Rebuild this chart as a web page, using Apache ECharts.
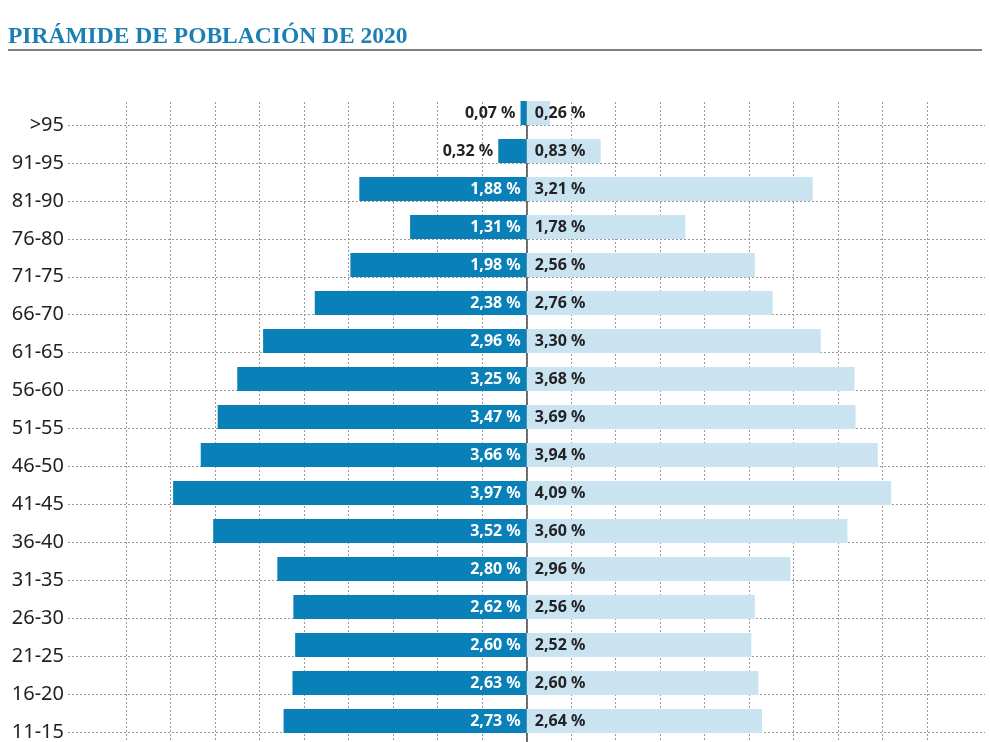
<!DOCTYPE html>
<html>
<head>
<meta charset="utf-8">
<script src="https://cdn.jsdelivr.net/npm/echarts@6/dist/echarts.min.js"></script>
<style>
  html, body { margin: 0; padding: 0; background: #fff; }
  #main { width: 990px; height: 742px; }
</style>
</head>
<body>
<div id="main"></div>
<script>
// grupos de edad, de arriba abajo
var edades = ['>95', '91-95', '81-90', '76-80', '71-75', '66-70', '61-65', '56-60',
              '51-55', '46-50', '41-45', '36-40', '31-35', '26-30', '21-25', '16-20', '11-15'];
// porcentaje izquierda (azul oscuro) y derecha (azul claro)
var izquierda = [0.07, 0.32, 1.88, 1.31, 1.98, 2.38, 2.96, 3.25,
                 3.47, 3.66, 3.97, 3.52, 2.80, 2.62, 2.60, 2.63, 2.73];
var derecha = [0.26, 0.83, 3.21, 1.78, 2.56, 2.76, 3.30, 3.68,
               3.69, 3.94, 4.09, 3.60, 2.96, 2.56, 2.52, 2.60, 2.64];

var dom = document.getElementById('main');
var myChart = echarts.init(dom);

function pct(v) {
    return Math.abs(v).toFixed(2).replace('.', ',') + ' %';
}

var labelFont = { fontFamily: 'Noto Sans', fontWeight: 'bold', fontSize: 16 };
var rejilla = { show: true, lineStyle: { color: '#9a9a9a', width: 1, type: [2, 2] } };

var option = {
    animation: false,
    title: {
        text: 'PIRÁMIDE DE POBLACIÓN DE 2020',
        left: 3,
        top: 20,
        textStyle: { fontFamily: 'Liberation Serif', fontWeight: 'bold', fontSize: 23.5, color: '#1b7fb3' }
    },
    graphic: [{
        type: 'line',
        shape: { x1: 8, y1: 50, x2: 982, y2: 50 },
        style: { stroke: '#555', lineWidth: 1.5 }
    }],
    grid: [
        { left: 68, right: 0, top: 94, bottom: 2 },     // barras
        { left: 68, right: 5, top: 125, bottom: 9 },    // lineas horizontales y etiquetas
        { left: 126, right: 63, top: 102, bottom: 0 }   // lineas verticales
    ],
    xAxis: [
        { gridIndex: 0, type: 'value', min: -5.15, max: 5.2, show: false, splitLine: { show: false } },
        { gridIndex: 1, type: 'value', show: false, splitLine: { show: false } },
        { gridIndex: 2, type: 'value', min: -4.5, max: 4.5, interval: 0.5,
          axisLine: { show: false }, axisTick: { show: false }, axisLabel: { show: false },
          splitLine: rejilla }
    ],
    yAxis: [
        { gridIndex: 0, type: 'category', inverse: true, data: edades, show: false },
        { gridIndex: 1, type: 'category', inverse: true, boundaryGap: false, data: edades,
          axisLine: { show: false }, axisTick: { show: false },
          axisLabel: { margin: 4, color: '#222', fontFamily: 'Noto Sans', fontSize: 20 },
          splitLine: rejilla },
        { gridIndex: 2, type: 'value', position: 'left', offset: 58,
          axisLine: { show: true, lineStyle: { color: '#444', width: 1.5 } },
          axisTick: { show: false }, axisLabel: { show: false }, splitLine: { show: false } }
    ],
    series: [
        {
            name: 'izquierda',
            type: 'bar',
            xAxisIndex: 0,
            yAxisIndex: 0,
            barWidth: 24,
            barGap: '-100%',
            itemStyle: { color: '#0a80b8' },
            data: izquierda.map(function (v) {
                var dentro = v >= 0.5;
                return {
                    value: -v,
                    label: {
                        show: true,
                        position: dentro ? 'insideRight' : 'left',
                        distance: dentro ? 6 : 5,
                        color: dentro ? '#fff' : '#222',
                        fontFamily: labelFont.fontFamily,
                        fontWeight: labelFont.fontWeight,
                        fontSize: labelFont.fontSize,
                        formatter: function (p) { return pct(p.value); }
                    }
                };
            })
        },
        {
            name: 'derecha',
            type: 'bar',
            xAxisIndex: 0,
            yAxisIndex: 0,
            barWidth: 24,
            barGap: '-100%',
            itemStyle: { color: '#c9e3f1' },
            label: {
                show: true,
                position: 'insideLeft',
                distance: 8,
                color: '#222',
                fontFamily: labelFont.fontFamily,
                fontWeight: labelFont.fontWeight,
                fontSize: labelFont.fontSize,
                formatter: function (p) { return pct(p.value); }
            },
            data: derecha
        }
    ]
};

if (option && typeof option === 'object') {
    myChart.setOption(option);
}
window.onresize = function () {
    myChart.resize();
};
</script>
</body>
</html>
